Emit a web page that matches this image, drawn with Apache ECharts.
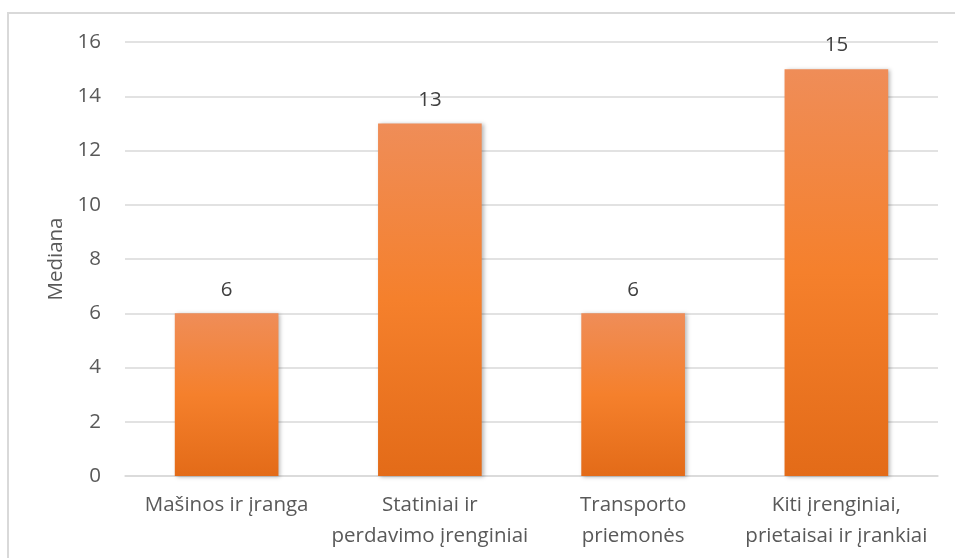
<!DOCTYPE html>
<html>
<head>
<meta charset="utf-8">
<script src="https://cdn.jsdelivr.net/npm/echarts@6/dist/echarts.min.js"></script>
<style>
  html, body { margin: 0; padding: 0; background: #ffffff; }
  #chart { width: 955px; height: 558px; }
</style>
</head>
<body>
<div id="chart"></div>
<script>
// Median values per asset group
const categories = [
  'Mašinos ir įranga',
  'Statiniai ir\nperdavimo įrenginiai',
  'Transporto\npriemonės',
  'Kiti įrenginiai,\nprietaisai ir įrankiai'
];
const medians = [6, 13, 6, 15];
const yTicks = { min: 0, max: 16, interval: 2 };
const axisTitle = 'Mediana';

const FONT = '"Open Sans", "Noto Sans", sans-serif';
const chart = echarts.init(document.getElementById('chart'), null, { renderer: 'canvas' });

const barFill = new echarts.graphic.LinearGradient(0, 0, 0, 1, [
  { offset: 0, color: '#EF8D58' },
  { offset: 0.5, color: '#F5802C' },
  { offset: 1, color: '#E36B18' }
]);

chart.setOption({
  backgroundColor: '#ffffff',
  animation: false,
  graphic: [{
    type: 'rect',
    shape: { x: 8, y: 13, width: 1000, height: 600 },
    style: { fill: 'none', stroke: '#D9D9D9', lineWidth: 2 },
    silent: true
  }],
  grid: { left: 125, right: 17, top: 42, bottom: 82 },
  xAxis: {
    type: 'category',
    data: categories,
    axisTick: { show: false },
    axisLine: { lineStyle: { color: '#D9D9D9', width: 1.5 } },
    axisLabel: {
      color: '#595959',
      fontFamily: FONT,
      fontSize: 20.5,
      lineHeight: 31,
      margin: 14,
      interval: 0
    }
  },
  yAxis: {
    type: 'value',
    min: yTicks.min,
    max: yTicks.max,
    interval: yTicks.interval,
    name: axisTitle,
    nameLocation: 'middle',
    nameGap: 57,
    nameTextStyle: { color: '#595959', fontFamily: FONT, fontSize: 20.5 },
    axisLine: { show: false },
    axisTick: { show: false },
    axisLabel: { color: '#595959', fontFamily: FONT, fontSize: 20.5, margin: 24 },
    splitLine: { lineStyle: { color: '#D9D9D9', width: 1.5 } }
  },
  series: [{
    type: 'bar',
    data: medians,
    barWidth: '51%',
    itemStyle: {
      color: barFill,
      shadowColor: 'rgba(0,0,0,0.28)',
      shadowBlur: 4,
      shadowOffsetX: 2,
      shadowOffsetY: 1
    },
    label: {
      show: true,
      position: 'top',
      distance: 13,
      color: '#404040',
      fontFamily: FONT,
      fontSize: 20.5
    }
  }]
});
</script>
</body>
</html>
